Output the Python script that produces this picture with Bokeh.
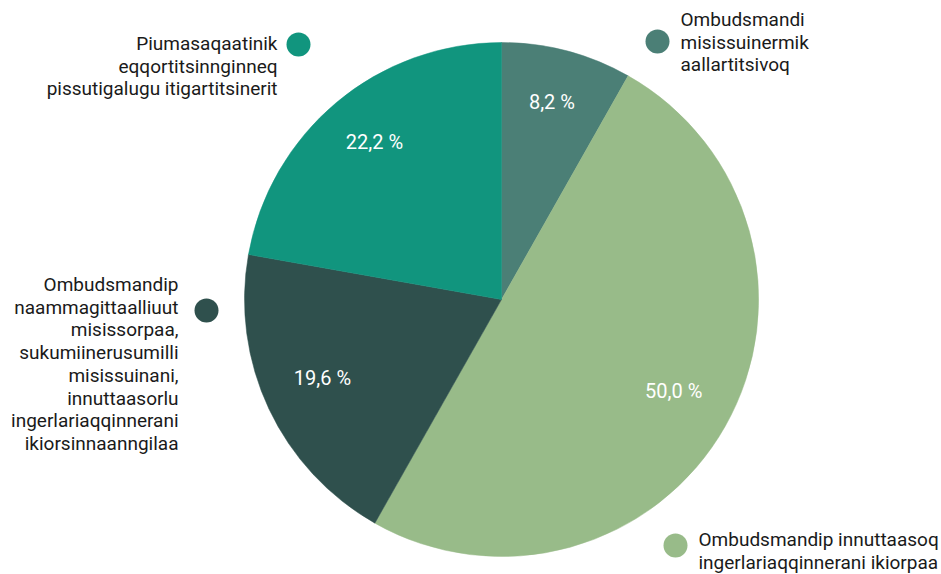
import math
from bokeh.plotting import figure
from bokeh.models import Range1d, ColumnDataSource
from bokeh.core.properties import value
from bokeh.embed import file_html
from bokeh.resources import INLINE

# ---- data ----
categories = [
    "Ombudsmandi misissuinermik aallartitsivoq",
    "Ombudsmandip innuttaasoq ingerlariaqqinnerani ikiorpaa",
    "Ombudsmandip naammagittaalliuut misissorpaa, sukumiinerusumilli misissuinani, innuttaasorlu ingerlariaqqinnerani ikiorsinnaanngilaa",
    "Piumasaqaatinik eqqortitsinnginneq pissutigalugu itigartitsinerit",
]
shares = [8.2, 50.0, 19.6, 22.2]
pct_labels = ["8,2 %", "50,0 %", "19,6 %", "22,2 %"]
legend_lines = [
    ["Ombudsmandi", "misissuinermik", "aallartitsivoq"],
    ["Ombudsmandip innuttaasoq", "ingerlariaqqinnerani ikiorpaa"],
    ["Ombudsmandip", "naammagittaalliuut", "misissorpaa,", "sukumiinerusumilli",
     "misissuinani,", "innuttaasorlu", "ingerlariaqqinnerani", "ikiorsinnaanngilaa"],
    ["Piumasaqaatinik", "eqqortitsinnginneq", "pissutigalugu itigartitsinerit"],
]
colors = ["#4b7f76", "#98bb89", "#2f504d", "#11957e"]

# ---- layout (screen px) ----
W, H = 941, 574
CX, CY, R = 501, 299, 257
LABEL_R = 0.77
LABEL_DY = 6
FONT = "Roboto"
FS = "19px"
PFS = "20px"
LINE_H = 22.7
# (dot x, dot y, text anchor x, first line y, align)
legend_pos = [
    (657, 41, 680, 19, "left"),
    (675, 545, 698, 539, "left"),
    (206, 310, 178, 284, "right"),
    (298, 44, 277, 43, "right"),
]

def fy(py):
    return H - py

p = figure(width=W, height=H, output_backend="svg", toolbar_location=None,
           x_range=Range1d(0, W), y_range=Range1d(0, H),
           min_border=0, outline_line_color=None, background_fill_color="white",
           border_fill_color="white")
p.axis.visible = False
p.grid.visible = False

total = sum(shares)
starts, ends, lx, ly = [], [], [], []
cum = 0.0
for s in shares:
    a0 = math.pi / 2 - 2 * math.pi * cum / total
    a1 = math.pi / 2 - 2 * math.pi * (cum + s) / total
    starts.append(a1)
    ends.append(a0)
    mid = (a0 + a1) / 2
    lx.append(CX + LABEL_R * R * math.cos(mid))
    ly.append(fy(CY) + LABEL_R * R * math.sin(mid) + LABEL_DY)
    cum += s

src = ColumnDataSource(dict(start=starts, end=ends, color=colors, cat=categories,
                            lx=lx, ly=ly, lab=pct_labels))
p.wedge(x=CX, y=fy(CY), radius=R, start_angle="start", end_angle="end",
        fill_color="color", line_color="color", line_width=0.5, source=src)
p.text(x="lx", y="ly", text="lab", source=src, text_color="white",
       text_font=value(FONT), text_font_size=PFS, text_align="center",
       text_baseline="middle")

# legend dots & labels
dx, dy, dc = [], [], []
for (px, py, tx, ty, al), c in zip(legend_pos, colors):
    dx.append(px); dy.append(fy(py)); dc.append(c)
p.scatter(x=dx, y=dy, size=24, marker="circle", fill_color=dc, line_color=None)

for (px, py, tx, ty, al), lines in zip(legend_pos, legend_lines):
    xs = [tx] * len(lines)
    ys = [fy(ty + i * LINE_H) for i in range(len(lines))]
    p.text(x=xs, y=ys, text=lines, text_color="#1a1a1a", text_font=value(FONT),
           text_font_size=FS, text_align=al, text_baseline="middle")

open("out.html", "w").write(file_html(p, INLINE))
